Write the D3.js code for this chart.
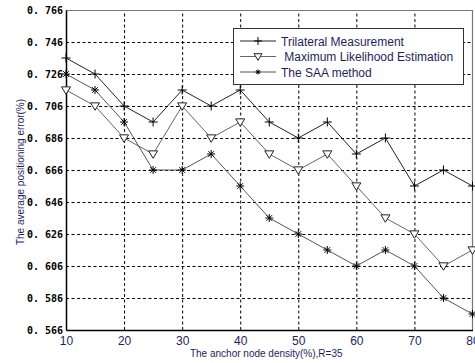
<!DOCTYPE html>
<html>
<head>
<meta charset="utf-8">
<script src="https://cdn.jsdelivr.net/npm/d3@7"></script>
<style>
  body { margin: 0; background: #fff; }
  svg { display: block; }
</style>
</head>
<body>
<div class="graph"></div>
<script>
// data
var densities = [10, 15, 20, 25, 30, 35, 40, 45, 50, 55, 60, 65, 70, 75, 80];
var trilateral = [0.736, 0.726, 0.706, 0.696, 0.716, 0.706, 0.716, 0.696, 0.686, 0.696, 0.676, 0.686, 0.656, 0.666, 0.656];
var mle = [0.716, 0.706, 0.686, 0.676, 0.706, 0.686, 0.696, 0.676, 0.666, 0.676, 0.656, 0.636, 0.626, 0.606, 0.616];
var saa = [0.726, 0.716, 0.696, 0.666, 0.666, 0.676, 0.656, 0.636, 0.626, 0.616, 0.606, 0.616, 0.606, 0.586, 0.576];
var xTicks = [10, 20, 30, 40, 50, 60, 70, 80];
var yTicks = [0.566, 0.586, 0.606, 0.626, 0.646, 0.666, 0.686, 0.706, 0.726, 0.746, 0.766];
var seriesNames = ["Trilateral Measurement", " Maximum Likelihood Estimation", "The SAA method"];

var text_color = "#1e1e5c";
var svgWidth = 475, svgHeight = 363;
var margin = {top: 10, right: 2.5, bottom: 33, left: 66};
var width = svgWidth - margin.left - margin.right;
var height = svgHeight - margin.top - margin.bottom;

var svg = d3.select("div.graph").append("svg")
    .attr("width", svgWidth)
    .attr("height", svgHeight);

var g = svg.append("g")
    .attr("transform", "translate(" + margin.left + "," + margin.top + ")");

var x = d3.scaleLinear().domain([10, 80]).range([0, width]);
var y = d3.scaleLinear().domain([0.566, 0.766]).range([height, 0]);

// grid
g.append("g")
    .attr("class", "grid")
    .attr("transform", "translate(0," + height + ")")
    .call(d3.axisBottom(x).tickValues(xTicks.slice(1, -1)).tickSize(-height).tickFormat(""))
    .call(function (s) { s.select(".domain").remove(); });
g.append("g")
    .attr("class", "grid")
    .call(d3.axisLeft(y).tickValues(yTicks.slice(1, -1)).tickSize(-width).tickFormat(""))
    .call(function (s) { s.select(".domain").remove(); });
g.selectAll(".grid line")
    .attr("stroke", "#000")
    .attr("stroke-width", 1)
    .attr("stroke-dasharray", "3,2.5");

// frame top/right
g.append("path")
    .attr("d", "M0,0.5H" + width + "V" + height)
    .attr("fill", "none")
    .attr("stroke", "#777")
    .attr("stroke-width", 1.2);

// axes
var xAxis = g.append("g")
    .attr("transform", "translate(0," + height + ")")
    .call(d3.axisBottom(x).tickValues(xTicks).tickSize(0).tickPadding(6).tickFormat(d3.format("d")));
xAxis.select(".domain").attr("stroke", "#000").attr("stroke-width", 1.5);
xAxis.selectAll("text")
    .attr("fill", text_color)
    .style("font-family", "'Liberation Sans', Arial, sans-serif")
    .style("font-size", "12px");

var yAxis = g.append("g")
    .call(d3.axisLeft(y).tickValues(yTicks).tickSize(0).tickPadding(3)
        .tickFormat(function (d) { return d3.format(".3f")(d).replace(".", ". "); }));
yAxis.select(".domain").attr("stroke", "#000").attr("stroke-width", 1.5);
yAxis.selectAll("text")
    .attr("fill", "#000")
    .style("font-family", "'DejaVu Sans Mono', monospace")
    .style("font-weight", "bold")
    .style("font-size", "10px");

// axis titles
svg.append("text")
    .attr("x", margin.left + width / 2 - 3)
    .attr("y", 357)
    .attr("text-anchor", "middle")
    .attr("fill", text_color)
    .style("font-family", "'Liberation Sans', Arial, sans-serif")
    .style("font-size", "10px")
    .text("The anchor node density(%),R=35");

svg.append("text")
    .attr("transform", "translate(24,172) rotate(-90)")
    .attr("text-anchor", "middle")
    .attr("fill", text_color)
    .style("font-family", "'Liberation Sans', Arial, sans-serif")
    .style("font-size", "10px")
    .text("The average positioning error(%)");

// markers
function plusMark(sel, r) {
    sel.append("path").attr("d", "M" + (-r) + ",0H" + r + "M0," + (-r) + "V" + r)
        .attr("stroke", "#000").attr("stroke-width", 1).attr("fill", "none");
}
function triMark(sel, r) {
    sel.append("path").attr("d", "M" + (-r) + "," + (-r * 0.7) + "H" + r + "L0," + (r * 0.95) + "Z")
        .attr("stroke", "#222").attr("stroke-width", 1).attr("fill", "#fff");
}
function starMark(sel, r) {
    var k = r * 0.7;
    sel.append("path").attr("d", "M" + (-r) + ",0H" + r + "M0," + (-r) + "V" + r +
        "M" + (-k) + "," + (-k) + "L" + k + "," + k + "M" + (-k) + "," + k + "L" + k + "," + (-k))
        .attr("stroke", "#000").attr("stroke-width", 1).attr("fill", "none");
}

var series = [
    {name: seriesNames[0], values: trilateral, color: "#222", mark: plusMark, r: 4.5},
    {name: seriesNames[1], values: mle, color: "#666", mark: triMark, r: 4.5},
    {name: seriesNames[2], values: saa, color: "#555", mark: starMark, r: 4}
];

var line = d3.line()
    .x(function (d, i) { return x(densities[i]); })
    .y(function (d) { return y(d); });

series.forEach(function (s) {
    g.append("path")
        .datum(s.values)
        .attr("fill", "none")
        .attr("stroke", s.color)
        .attr("stroke-width", 1)
        .attr("d", line);
});
series.forEach(function (s) {
    g.selectAll(null)
        .data(s.values)
        .enter().append("g")
        .attr("transform", function (d, i) { return "translate(" + x(densities[i]) + "," + y(d) + ")"; })
        .each(function () { s.mark(d3.select(this), s.r); });
});

// legend
var legend = svg.append("g").attr("transform", "translate(233,28)");
legend.append("rect")
    .attr("x", 0.5).attr("y", 0.5)
    .attr("width", 230).attr("height", 56)
    .attr("fill", "#fff")
    .attr("stroke", "#333")
    .attr("stroke-width", 1);
series.forEach(function (s, i) {
    var row = legend.append("g").attr("transform", "translate(0," + (13 + i * 15.5) + ")");
    row.append("line").attr("x1", 7).attr("x2", 43).attr("y1", 0).attr("y2", 0)
        .attr("stroke", s.color).attr("stroke-width", 1);
    var m = row.append("g").attr("transform", "translate(25,0)");
    s.mark(m, i === 2 ? 2.5 : 4);
    row.append("text")
        .attr("x", 48).attr("y", 4.5)
        .attr("fill", text_color)
        .style("font-family", "'Liberation Sans', Arial, sans-serif")
        .style("font-size", "12px")
        .style("white-space", "pre")
        .attr("xml:space", "preserve")
        .text(s.name);
});
</script>
</body>
</html>
